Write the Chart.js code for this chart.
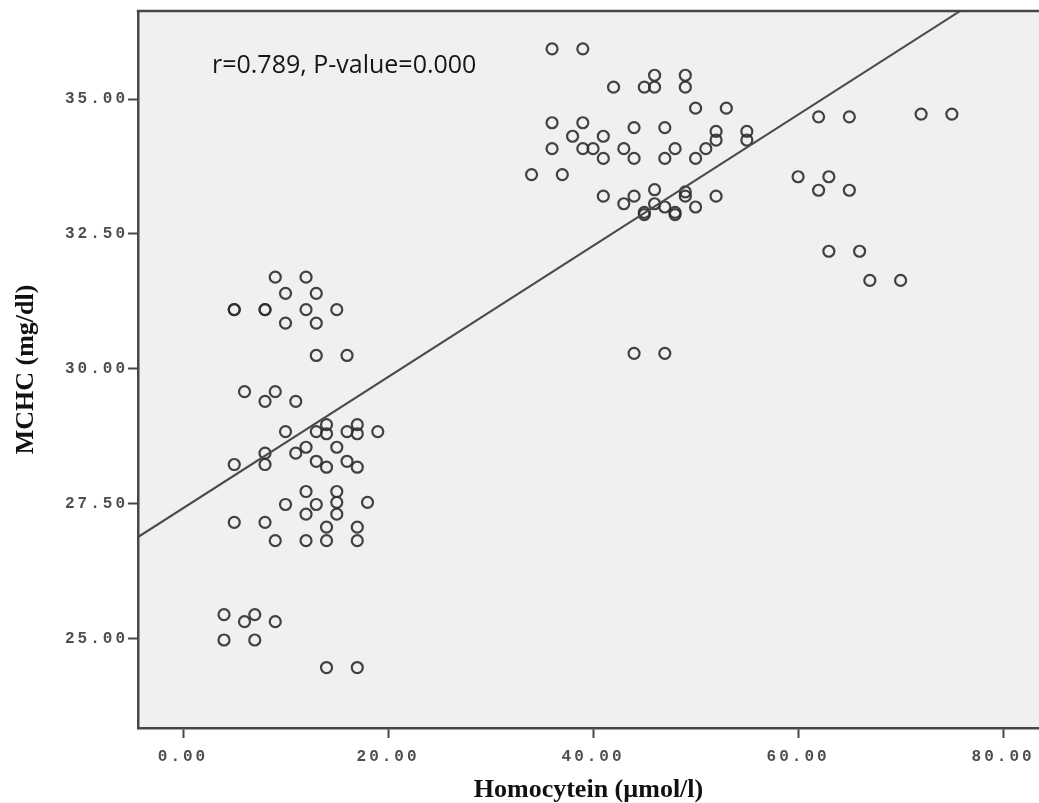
<!DOCTYPE html>
<html>
<head>
<meta charset="utf-8">
<script src="https://cdn.jsdelivr.net/npm/chart.js@4/dist/chart.umd.min.js"></script>
<style>
  html, body { margin: 0; padding: 0; background: #ffffff; overflow: hidden; }
  canvas { display: block; }
</style>
</head>
<body>
<canvas id="c" width="1039" height="803"></canvas>
<script>
// Homocysteine (µmol/l) for each subject
const homocysteine = [
  9, 12, 10, 13, 5, 5, 8, 8, 12, 15, 10, 13, 13, 16,
  6, 9, 8, 11,
  10, 13, 14, 14, 16, 17, 17, 19,
  12, 15, 8, 11, 5, 8, 13, 14, 16, 17,
  12, 15, 15, 18, 10, 13, 12, 15, 5, 8, 14, 17,
  9, 12, 14, 17, 4, 7, 6, 9, 4, 7, 14, 17,
  36, 39, 46, 49, 42, 45, 46, 49, 50, 53,
  36, 39, 38, 41, 44, 47, 52, 52, 55, 55,
  36, 39, 40, 43, 48, 51, 41, 44, 47, 50,
  34, 37, 41, 44, 46, 49, 49, 52,
  43, 46, 47, 50, 45, 45, 48, 48, 44, 47,
  60, 63, 62, 65, 62, 65, 72, 75, 63, 66, 67, 70
];

// MCHC (mg/dl) for the same subjects
const mchc = [
  31.70, 31.70, 31.40, 31.40, 31.10, 31.10, 31.10, 31.10, 31.10, 31.10, 30.85, 30.85, 30.25, 30.25,
  29.58, 29.58, 29.40, 29.40,
  28.84, 28.84, 28.97, 28.80, 28.84, 28.97, 28.80, 28.84,
  28.55, 28.55, 28.44, 28.44, 28.23, 28.23, 28.29, 28.18, 28.29, 28.18,
  27.73, 27.73, 27.53, 27.53, 27.49, 27.49, 27.31, 27.31, 27.16, 27.16, 27.07, 27.07,
  26.82, 26.82, 26.82, 26.82, 25.45, 25.45, 25.32, 25.32, 24.98, 24.98, 24.47, 24.47,
  35.93, 35.93, 35.44, 35.44, 35.22, 35.22, 35.22, 35.22, 34.83, 34.83,
  34.56, 34.56, 34.31, 34.31, 34.47, 34.47, 34.40, 34.24, 34.40, 34.24,
  34.08, 34.08, 34.08, 34.08, 34.08, 34.08, 33.90, 33.90, 33.90, 33.90,
  33.60, 33.60, 33.20, 33.20, 33.32, 33.28, 33.20, 33.20,
  33.06, 33.06, 33.00, 33.00, 32.90, 32.86, 32.90, 32.86, 30.29, 30.29,
  33.56, 33.56, 33.31, 33.31, 34.67, 34.67, 34.72, 34.72, 32.18, 32.18, 31.64, 31.64
];

const xTicks = [0, 20, 40, 60, 80];
const yTicks = [25, 27.5, 30, 32.5, 35];

// least-squares fit line
const fitIntercept = 27.42;
const fitSlope = 0.1215;

const statsLabel = 'r=0.789, P-value=0.000';
const xTitle = 'Homocytein (\u00b5mol/l)';
const yTitle = 'MCHC (mg/dl)';

const xRange = [-4.39, 83.5];
const yRange = [23.35, 36.63];

const scatterPoints = homocysteine.map((x, i) => ({ x: x, y: mchc[i] }));
const fitPoints = xRange.map(x => ({ x: x, y: fitIntercept + fitSlope * x }));

const axisColor = '#474747';
const tickFont = { family: '"Liberation Mono", monospace', size: 16, weight: 'bold' };

// tick labels are drawn with a little extra letter spacing
function spaceLabels(scale) {
  if (scale._spacedLabels) return;
  const orig = scale.drawLabels;
  scale.drawLabels = function (area) {
    const ctx = this.ctx;
    ctx.save();
    ctx.letterSpacing = '3px';
    orig.call(this, area);
    ctx.restore();
  };
  scale._spacedLabels = true;
}

const plotFrame = {
  id: 'plotFrame',
  beforeDraw(chart) {
    const { ctx, chartArea: a } = chart;
    ctx.save();
    ctx.fillStyle = '#f0f0f0';
    ctx.fillRect(a.left, a.top, a.right - a.left, a.bottom - a.top);
    ctx.restore();
  },
  afterDraw(chart) {
    const { ctx, chartArea: a } = chart;
    ctx.save();
    ctx.strokeStyle = axisColor;
    ctx.lineWidth = 2.5;
    ctx.beginPath();
    ctx.moveTo(a.left - 1.25, a.top);
    ctx.lineTo(a.right + 2, a.top);
    ctx.stroke();
    ctx.fillStyle = '#161616';
    ctx.font = '25px "Open Sans"';
    ctx.textBaseline = 'alphabetic';
    ctx.textAlign = 'left';
    ctx.fillText(statsLabel, a.left + 74, a.top + 62);
    ctx.restore();
  }
};

new Chart(document.getElementById('c'), {
  type: 'scatter',
  data: {
    datasets: [
      {
        type: 'scatter',
        data: scatterPoints,
        pointStyle: 'circle',
        pointRadius: 5.5,
        pointBorderWidth: 2.2,
        pointBorderColor: 'rgba(45,45,45,0.9)',
        pointBackgroundColor: 'rgba(0,0,0,0)',
        order: 2
      },
      {
        type: 'line',
        data: fitPoints,
        borderColor: '#4a4a4a',
        borderWidth: 2,
        pointRadius: 0,
        fill: false,
        clip: 0,
        order: 1
      }
    ]
  },
  plugins: [plotFrame],
  options: {
    responsive: false,
    animation: false,
    events: [],
    layout: { autoPadding: false, padding: { top: 11, right: 0, bottom: 0, left: 0 } },
    plugins: { legend: { display: false }, tooltip: { enabled: false } },
    scales: {
      x: {
        type: 'linear',
        position: 'bottom',
        min: xRange[0],
        max: xRange[1],
        afterBuildTicks: s => { s.ticks = xTicks.map(v => ({ value: v })); },
        afterFit: s => { s.height = 75; s.paddingLeft = 0; s.paddingRight = 0; spaceLabels(s); },
        grid: { drawOnChartArea: false, drawTicks: true, tickLength: 10, tickWidth: 2, tickColor: axisColor },
        border: { display: true, color: axisColor, width: 2.5 },
        ticks: {
          maxRotation: 0,
          autoSkip: false,
          padding: 9,
          color: '#4e4e4e',
          font: tickFont,
          callback: v => Number(v).toFixed(2)
        },
        title: {
          display: true,
          text: xTitle,
          color: '#111111',
          padding: { top: 0, bottom: 0 },
          font: { family: '"Liberation Serif", serif', size: 26, weight: 'bold', lineHeight: 1 }
        }
      },
      y: {
        type: 'linear',
        position: 'left',
        min: yRange[0],
        max: yRange[1],
        afterBuildTicks: s => { s.ticks = yTicks.map(v => ({ value: v })); },
        afterFit: s => { s.width = 138; s.paddingTop = 0; s.paddingBottom = 0; spaceLabels(s); },
        grid: { drawOnChartArea: false, drawTicks: true, tickLength: 10, tickWidth: 2, tickColor: axisColor },
        border: { display: true, color: axisColor, width: 2.5 },
        ticks: {
          autoSkip: false,
          padding: 0,
          color: '#4e4e4e',
          font: tickFont,
          callback: v => Number(v).toFixed(2)
        },
        title: {
          display: true,
          text: yTitle,
          color: '#111111',
          padding: { top: 13, bottom: 0 },
          font: { family: '"Liberation Serif", serif', size: 26, weight: 'bold', lineHeight: 1 }
        }
      }
    }
  }
});
</script>
</body>
</html>
